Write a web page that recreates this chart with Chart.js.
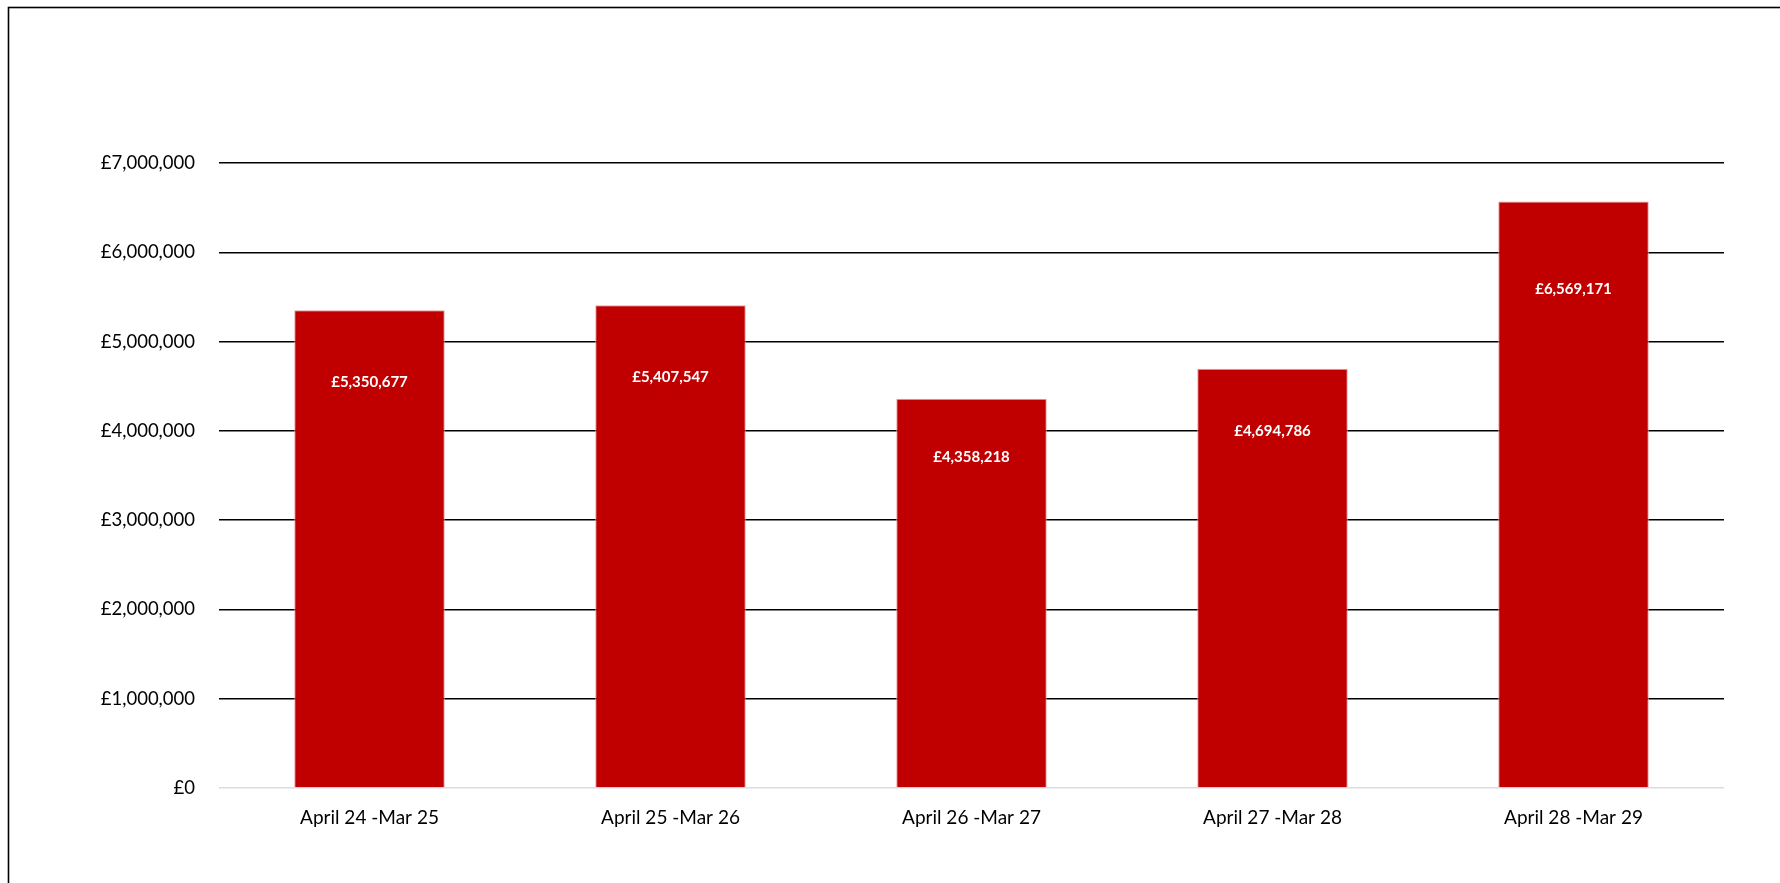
<!DOCTYPE html>
<html>
<head>
<meta charset="utf-8">
<script src="https://cdn.jsdelivr.net/npm/chart.js@4.4.1/dist/chart.umd.min.js"></script>
<style>
html,body{margin:0;padding:0;background:#fff;}
#wrap{position:absolute;left:0;top:0;width:1780px;height:883px;}
</style>
</head>
<body>
<div id="wrap"><canvas id="c" width="1780" height="883"></canvas></div>
<script>
const categories = ["April 24 -Mar 25", "April 25 -Mar 26", "April 26 -Mar 27", "April 27 -Mar 28", "April 28 -Mar 29"];
const values = [5350677, 5407547, 4358218, 4694786, 6569171];
const yTicks = [0, 1000000, 2000000, 3000000, 4000000, 5000000, 6000000, 7000000];

const fmt = v => '£' + Math.round(v).toLocaleString('en-GB');

const frame = {
  id: 'frame',
  beforeDraw(chart) {
    const c = chart.ctx;
    c.save();
    c.fillStyle = '#fff';
    c.fillRect(0, 0, chart.width, chart.height);
    c.strokeStyle = '#000';
    c.lineWidth = 1.6;
    c.strokeRect(8.5, 7.5, 1900, 1000);
    c.restore();
  }
};

const labels = {
  id: 'barLabels',
  afterDatasetsDraw(chart) {
    const c = chart.ctx;
    const meta = chart.getDatasetMeta(0);
    c.save();
    c.fillStyle = '#fff';
    c.font = 'bold 15px Lato';
    c.textAlign = 'center';
    c.textBaseline = 'middle';
    meta.data.forEach((bar, i) => {
      const y = bar.base - 0.85 * (bar.base - bar.y);
      c.fillText(fmt(values[i]), bar.x, y);
    });
    c.restore();
  }
};

new Chart(document.getElementById('c'), {
  type: 'bar',
  data: {
    labels: categories,
    datasets: [{
      data: values,
      backgroundColor: '#C00000',
      borderColor: '#e8a0a0',
      borderWidth: 1,
      categoryPercentage: 1,
      barPercentage: 0.5
    }]
  },
  options: {
    responsive: false,
    animation: false,
    devicePixelRatio: 1,
    layout: { padding: { top: 163, right: 56, bottom: 0, left: 0 } },
    plugins: { legend: { display: false }, tooltip: { enabled: false } },
    scales: {
      x: {
        grid: { display: false },
        border: { display: false },
        ticks: { color: '#000', font: { family: 'Lato', size: 19 }, padding: 10 },
        afterFit(s) { s.height = 95; }
      },
      y: {
        min: 0, max: 7000000,
        afterBuildTicks(s) { s.ticks = yTicks.map(v => ({ value: v })); },
        grid: {
          color: ctx => ctx.tick && ctx.tick.value === 0 ? '#d9dde3' : '#000',
          lineWidth: 1.4,
          drawTicks: false
        },
        border: { display: false },
        ticks: {
          color: '#000',
          font: { family: 'Lato', size: 18.5 },
          padding: 24,
          callback: v => fmt(v)
        },
        afterFit(s) { s.width = 219; }
      }
    }
  },
  plugins: [frame, labels]
});
</script>
</body>
</html>
